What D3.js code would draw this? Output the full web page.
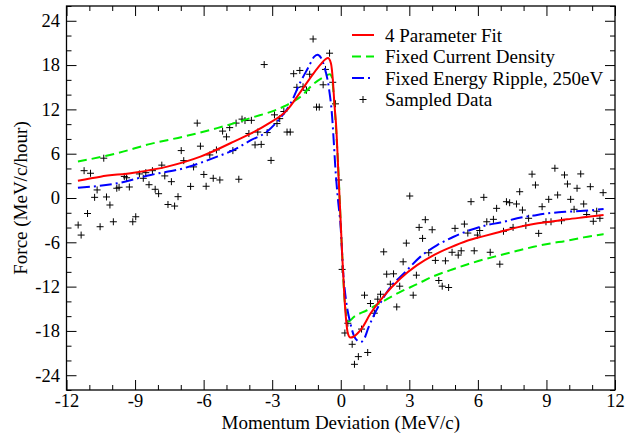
<!DOCTYPE html>
<html>
<head>
<meta charset="utf-8">
<script src="https://cdn.jsdelivr.net/npm/d3@7"></script>
<style>
  html, body { margin: 0; padding: 0; background: #fff; }
  svg { display: block; }
  text { font-family: "Liberation Serif", "Times New Roman", serif; fill: #000; }
</style>
</head>
<body>
<svg id="chart" width="633" height="434"></svg>
<script>
// ---- Data ----
const seriesNames = ["4 Parameter Fit", "Fixed Current Density", "Fixed Energy Ripple, 250eV", "Sampled Data"];
const xTicks = [-12, -9, -6, -3, 0, 3, 6, 9, 12];
const yTicks = [-24, -18, -12, -6, 0, 6, 12, 18, 24];

const fitX = [-11.50,-10.51,-9.06,-7.59,-6.14,-4.68,-3.22,-2.34,-1.76,-1.18,-0.89,-0.67,-0.56,-0.43,-0.34,-0.28,-0.19,-0.11,-0.04,0.06,0.16,0.25,0.31,0.42,0.56,0.73,0.94,1.30,1.88,2.61,3.34,4.07,4.80,5.53,6.26,6.99,7.72,8.44,9.17,9.90,10.63,11.50];
const fitY = [2.35,2.89,3.43,4.25,5.60,7.64,9.97,11.94,14.38,16.92,18.05,18.79,18.96,18.25,15.74,12.85,9.22,3.80,-0.72,-7.50,-13.39,-17.00,-18.32,-18.90,-18.79,-18.36,-17.57,-15.65,-13.30,-10.90,-9.09,-7.73,-6.69,-5.79,-5.16,-4.57,-3.98,-3.53,-3.22,-2.89,-2.62,-2.31];

const currentX = [-11.50,-9.78,-8.32,-6.87,-5.41,-3.95,-2.49,-1.76,-1.18,-0.74,-0.48,-0.38,-0.34,-0.26,-0.16,-0.09,-0.04,0.06,0.16,0.27,0.35,0.57,1.15,1.88,2.61,3.34,4.07,4.80,5.53,6.26,6.99,7.72,8.44,9.17,9.90,10.63,11.50];
const currentY = [4.93,6.07,7.33,8.32,9.46,10.82,12.39,13.71,15.47,16.38,16.76,16.28,15.10,11.94,6.96,2.89,-0.72,-7.50,-13.39,-16.28,-16.69,-16.11,-15.20,-13.94,-12.71,-11.67,-10.58,-9.77,-9.00,-8.32,-7.73,-7.15,-6.61,-6.15,-5.79,-5.33,-4.89];

const rippleX = [-11.50,-9.78,-8.32,-6.87,-5.41,-4.68,-3.95,-3.22,-2.64,-2.20,-1.76,-1.40,-1.18,-1.02,-0.86,-0.71,-0.52,-0.38,-0.31,-0.23,-0.12,-0.01,0.10,0.25,0.39,0.57,0.74,0.86,0.99,1.22,1.52,1.74,2.17,2.76,3.49,4.22,4.94,5.67,6.40,6.99,7.72,8.44,9.17,9.90,10.63,11.50];
const rippleY = [1.40,1.99,3.12,4.03,5.60,6.51,7.80,9.00,10.86,12.76,15.74,17.78,19.07,19.40,18.96,17.71,14.93,11.13,7.87,3.80,-0.27,-3.66,-9.77,-14.29,-16.56,-18.59,-19.36,-19.50,-19.27,-17.50,-15.43,-14.18,-12.08,-10.22,-7.94,-6.38,-5.25,-4.34,-3.66,-3.32,-2.75,-2.37,-2.04,-1.86,-1.74,-1.49];

const sampleX = [-11.49,-11.36,-11.23,-11.08,-10.95,-10.77,-10.66,-10.53,-10.37,-10.25,-10.10,-9.95,-9.80,-9.70,-9.47,-9.37,-9.25,-9.10,-8.97,-8.81,-8.64,-8.53,-8.24,-8.39,-8.12,-7.97,-7.83,-7.70,-7.41,-7.56,-7.27,-7.12,-6.98,-6.87,-6.57,-6.44,-6.28,-6.14,-5.99,-5.89,-5.73,-5.58,-5.44,-5.29,-5.17,-5.00,-4.86,-4.72,-4.58,-4.46,-4.32,-4.19,-4.02,-3.91,-3.75,-3.63,-3.48,-3.35,-3.22,-3.05,-2.90,-2.79,-2.67,-2.49,-2.35,-2.21,-2.06,-1.92,-1.79,-1.65,-1.50,-1.36,-1.21,-1.06,-0.94,-0.77,-0.67,-0.49,-0.35,-0.23,-0.09,0.06,0.18,0.31,0.50,0.60,0.77,0.91,1.04,1.18,1.30,1.47,1.62,1.74,1.88,2.01,2.17,2.31,2.45,2.58,2.73,2.87,3.02,3.17,3.31,3.43,3.58,3.70,3.85,4.00,4.14,4.29,4.44,4.58,4.72,4.87,5.00,5.14,5.27,5.41,5.56,5.70,5.84,5.98,6.08,6.26,6.39,6.54,6.68,6.82,6.96,7.12,7.25,7.39,7.54,7.69,7.83,7.95,8.10,8.22,8.37,8.52,8.66,8.81,8.98,9.10,9.20,9.37,9.49,9.66,9.79,9.92,10.06,10.21,10.34,10.50,10.63,10.76,10.92,11.05,11.20,11.34,11.48];
const sampleY = [-3.66,-5.02,3.70,-2.10,3.35,0.09,1.09,-3.89,5.39,0.14,-0.95,-3.22,1.32,1.45,2.92,2.74,1.49,-3.22,-2.54,3.26,2.67,3.43,3.70,1.80,1.18,0.58,4.45,2.99,2.21,-0.88,-1.09,0.18,6.42,5.06,1.57,4.21,10.14,7.02,3.19,1.59,5.83,2.67,6.51,2.44,9.06,8.28,9.53,6.42,10.14,2.54,10.68,10.49,8.73,10.52,7.19,8.93,7.26,18.07,8.86,5.09,11.26,10.08,10.75,11.71,8.93,8.93,16.83,14.99,17.27,15.06,14.59,16.76,21.53,12.31,12.31,15.33,17.41,19.61,15.67,12.75,2.44,-9.67,-18.28,-16.96,-19.81,-22.52,-21.48,-17.75,-13.16,-20.92,-14.29,-15.60,-13.70,-13.03,-7.29,-10.31,-11.67,-10.27,-14.75,-11.94,-8.64,-6.11,0.27,-13.16,-10.45,-3.98,-5.47,-2.94,-7.42,-4.30,-8.45,-11.17,-11.94,-8.51,-12.12,-7.35,-4.11,-7.73,-7.15,-3.53,-4.75,-0.50,-7.15,-5.02,-4.40,0.09,-3.22,-7.35,-2.89,-1.40,-8.96,-4.51,-0.50,-0.64,-3.98,-0.81,0.85,-1.63,-3.73,-2.75,3.23,1.76,-4.79,-1.18,-3.22,-0.18,-3.22,4.03,0.41,-3.08,3.12,1.90,-0.18,-1.53,1.32,3.26,-0.81,-2.24,1.53,-3.15,-1.79,-2.75,0.72];

// ---- Layout ----
const W = 633, H = 434;
const plot = { left: 66.5, right: 615, top: 6, bottom: 390 };
const svg = d3.select("#chart");

const x = d3.scaleLinear().domain([-12, 12]).range([plot.left, plot.right]);
const y = d3.scaleLinear().domain([-26, 26]).range([plot.bottom, plot.top]);

const fmt = d => String(d);
const majorLen = 10, minorLen = 5;

// Minor ticks
const xMinor = d3.range(-12, 12.01, 1).filter(v => !xTicks.includes(v));
const yMinor = d3.range(-26, 26.01, 2).filter(v => !yTicks.includes(v));

const axisStyle = g => {
  g.select(".domain").remove();
  g.selectAll(".tick line").attr("stroke", "#000").attr("stroke-width", 1);
};

// bottom
svg.append("g").attr("transform", `translate(0,${plot.bottom})`)
  .call(d3.axisBottom(x).tickValues(xTicks).tickFormat(fmt).tickSize(-majorLen).tickPadding(4))
  .call(axisStyle)
  .call(g => g.selectAll("text").attr("font-size", 18.5).attr("font-family", "Liberation Serif"));
svg.append("g").attr("transform", `translate(0,${plot.bottom})`)
  .call(d3.axisBottom(x).tickValues(xMinor).tickFormat("").tickSize(-minorLen))
  .call(axisStyle);
// top
svg.append("g").attr("transform", `translate(0,${plot.top})`)
  .call(d3.axisTop(x).tickValues(xTicks).tickFormat("").tickSize(-majorLen))
  .call(axisStyle);
svg.append("g").attr("transform", `translate(0,${plot.top})`)
  .call(d3.axisTop(x).tickValues(xMinor).tickFormat("").tickSize(-minorLen))
  .call(axisStyle);
// left
svg.append("g").attr("transform", `translate(${plot.left},0)`)
  .call(d3.axisLeft(y).tickValues(yTicks).tickFormat(fmt).tickSize(-majorLen).tickPadding(6.5))
  .call(axisStyle)
  .call(g => g.selectAll("text").attr("font-size", 18.5).attr("font-family", "Liberation Serif"));
svg.append("g").attr("transform", `translate(${plot.left},0)`)
  .call(d3.axisLeft(y).tickValues(yMinor).tickFormat("").tickSize(-minorLen))
  .call(axisStyle);
// right
svg.append("g").attr("transform", `translate(${plot.right},0)`)
  .call(d3.axisRight(y).tickValues(yTicks).tickFormat("").tickSize(-majorLen))
  .call(axisStyle);
svg.append("g").attr("transform", `translate(${plot.right},0)`)
  .call(d3.axisRight(y).tickValues(yMinor).tickFormat("").tickSize(-minorLen))
  .call(axisStyle);

// frame
svg.append("rect")
  .attr("x", plot.left).attr("y", plot.top)
  .attr("width", plot.right - plot.left).attr("height", plot.bottom - plot.top)
  .attr("fill", "none").attr("stroke", "#000").attr("stroke-width", 1.3);

// clip
svg.append("clipPath").attr("id", "clip").append("rect")
  .attr("x", plot.left).attr("y", plot.top)
  .attr("width", plot.right - plot.left).attr("height", plot.bottom - plot.top);

const gData = svg.append("g").attr("clip-path", "url(#clip)");

// samples
const plusPath = "M-3.5,0H3.5M0,-3.5V3.5";
gData.append("g").selectAll("path")
  .data(sampleX.map((v, i) => [v, sampleY[i]]))
  .join("path")
  .attr("transform", d => `translate(${x(d[0])},${y(d[1])})`)
  .attr("d", plusPath)
  .attr("stroke", "#000").attr("stroke-width", 1).attr("fill", "none");

const line = d3.line().x(d => x(d[0])).y(d => y(d[1])).curve(d3.curveMonotoneX);
const seriesDefs = [
  { xs: fitX, ys: fitY, color: "#ff0000", dash: null },
  { xs: currentX, ys: currentY, color: "#00ee00", dash: "9,5" },
  { xs: rippleX, ys: rippleY, color: "#0000ff", dash: "12,4,2,4" }
];
// draw green first, then blue, then red on top
[1, 2, 0].forEach(i => {
  const s = seriesDefs[i];
  gData.append("path")
    .datum(s.xs.map((v, k) => [v, s.ys[k]]))
    .attr("d", line)
    .attr("fill", "none")
    .attr("stroke", s.color)
    .attr("stroke-width", 2)
    .attr("stroke-dasharray", s.dash);
});

// legend
const leg = svg.append("g");
const legY0 = 35, legDy = 21.5;
seriesNames.forEach((name, i) => {
  const yy = legY0 + i * legDy;
  if (i < 3) {
    const s = seriesDefs[i];
    leg.append("line").attr("x1", 352).attr("x2", 374).attr("y1", yy).attr("y2", yy)
      .attr("stroke", s.color).attr("stroke-width", 2).attr("stroke-dasharray", s.dash);
  } else {
    leg.append("path").attr("transform", `translate(363,${yy})`).attr("d", plusPath)
      .attr("stroke", "#000").attr("stroke-width", 1);
  }
  leg.append("text").attr("x", 385).attr("y", yy + 6.5)
    .attr("font-size", 19).text(name);
});

// axis titles
svg.append("text")
  .attr("x", (plot.left + plot.right) / 2).attr("y", 429)
  .attr("text-anchor", "middle").attr("font-size", 19)
  .text("Momentum Deviation (MeV/c)");
svg.append("text")
  .attr("transform", `translate(27,${(plot.top + plot.bottom) / 2}) rotate(-90)`)
  .attr("text-anchor", "middle").attr("font-size", 19)
  .text("Force (MeV/c/hour)");
</script>
</body>
</html>
